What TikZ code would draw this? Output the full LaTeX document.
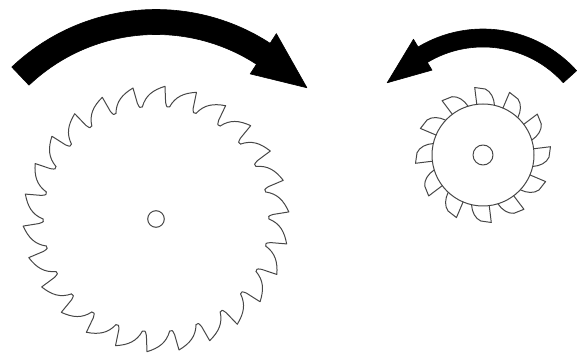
\documentclass[tikz,border=0pt]{standalone}
\begin{document}
\begin{tikzpicture}[x=1pt,y=1pt,
  sawline/.style={draw=black!72, line width=1pt, line join=round, line cap=round},
  spinarrow/.style={fill=black, draw=black, line width=0.6pt, line join=round}]
\useasboundingbox (0,0) rectangle (588,356);

% large saw blade, turning clockwise
\begin{scope}[shift={(156,137)}]
  \coordinate (bigc) at (0,0);
  \def\p{13.846}
  \foreach \i in {0,...,25}{
    \pgfmathsetmacro\a{\i*\p}
    \draw[sawline] (\a:113)
      .. controls ({\a-0.15*\p}:124) and ({\a-0.4*\p}:129) .. ({\a-0.78*\p}:133)
      -- ({\a-0.84*\p}:117)
      .. controls ({\a-0.9*\p}:112) .. ({\a-\p}:113);
  }
  \draw[sawline] (bigc) circle[radius=8.3pt];
  % rotation arrow above the blade
  \fill[spinarrow] (133.5:209.5) arc[start angle=133.5, end angle=57, radius=209.5pt]
    -- (57:221) -- (41:200) -- (57:173) -- (57:184.5)
    arc[start angle=57, end angle=133.5, radius=184.5pt] -- cycle;
\end{scope}

% small cutter with inserted teeth, turning counter-clockwise
\begin{scope}[shift={(483,201)}]
  \coordinate (smallc) at (0,0);
  \draw[sawline] (smallc) circle[radius=51pt];
  \foreach \i in {0,...,11}{
    \pgfmathsetmacro\b{7+\i*30}
    \draw[sawline] (\b:51) -- (\b:68) -- ({\b-9}:66)
      .. controls ({\b-14}:64) and ({\b-18}:58) .. ({\b-20}:51);
  }
  \draw[sawline] (smallc) circle[radius=10pt];
  % rotation arrow above the cutter
  \fill[spinarrow] (42:126) arc[start angle=42, end angle=121, radius=126pt]
    -- (121:135) -- (143:120) -- (121:99) -- (121:108)
    arc[start angle=121, end angle=42, radius=108pt] -- cycle;
\end{scope}
\end{tikzpicture}
\end{document}
